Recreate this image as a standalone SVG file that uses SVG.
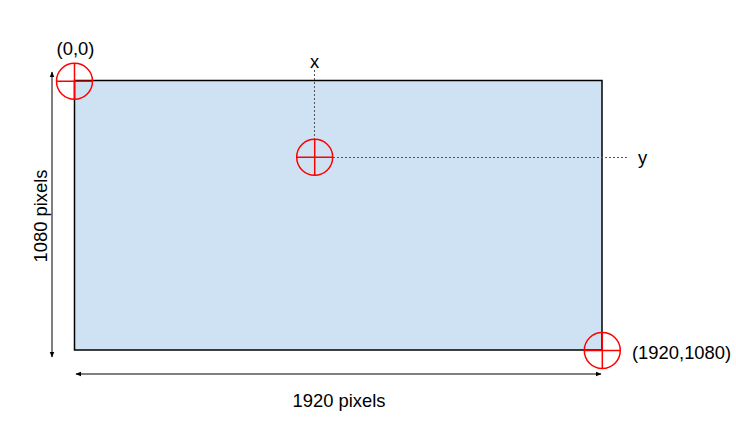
<svg xmlns="http://www.w3.org/2000/svg" width="736" height="431" viewBox="0 0 736 431">
<style>
text{font-family:"Liberation Sans",Arial,sans-serif;font-size:18.4px;fill:#000}
.mark circle{fill:none;stroke:#ff0000;stroke-width:1.5}
.mark line{stroke:#ff0000;stroke-width:1.5}
.dot{stroke:#555;stroke-width:1;stroke-dasharray:2,2;fill:none}
.arr{stroke:#000;stroke-width:1;fill:none;marker-start:url(#ah);marker-end:url(#ah)}
</style>
<defs>
<marker id="ah" viewBox="0 0 10 10" refX="9" refY="5" markerWidth="6" markerHeight="6" orient="auto-start-reverse" markerUnits="userSpaceOnUse">
<path d="M0,1 L10,5 L0,9 Z" fill="#000"/>
</marker>
</defs>
<g id="screen">
<rect x="74.5" y="80.5" width="527.5" height="269.5" fill="#cfe2f3" stroke="#000" stroke-width="1.5"/>
</g>
<g id="connectors">
<line class="dot" x1="314.5" y1="70" x2="314.5" y2="139"/>
<line class="dot" x1="333" y1="157.5" x2="627" y2="157.5"/>
<line class="arr" x1="52" y1="72" x2="52" y2="357"/>
<line class="arr" x1="76" y1="374" x2="601" y2="374"/>
</g>
<g id="origin" class="mark">
<circle cx="74.5" cy="81.3" r="18"/>
<line x1="56.5" y1="81.3" x2="92.5" y2="81.3"/>
<line x1="74.5" y1="63.3" x2="74.5" y2="99.3"/>
<text x="75.5" y="55" text-anchor="middle">(0,0)</text>
</g>
<g id="point" class="mark">
<circle cx="314.7" cy="157.3" r="18"/>
<line x1="296.7" y1="157.3" x2="332.7" y2="157.3"/>
<line x1="314.7" y1="139.3" x2="314.7" y2="175.3"/>
</g>
<g id="corner" class="mark">
<circle cx="602.3" cy="350.5" r="18"/>
<line x1="584.3" y1="350.5" x2="620.3" y2="350.5"/>
<line x1="602.3" y1="332.5" x2="602.3" y2="368.5"/>
<text x="632" y="358.5">(1920,1080)</text>
</g>
<g id="labels">
<text x="314.5" y="68" text-anchor="middle">x</text>
<text x="638" y="164">y</text>
<text x="339" y="406.5" text-anchor="middle">1920 pixels</text>
<text transform="translate(47,216) rotate(-90)" text-anchor="middle">1080 pixels</text>
</g>
</svg>
